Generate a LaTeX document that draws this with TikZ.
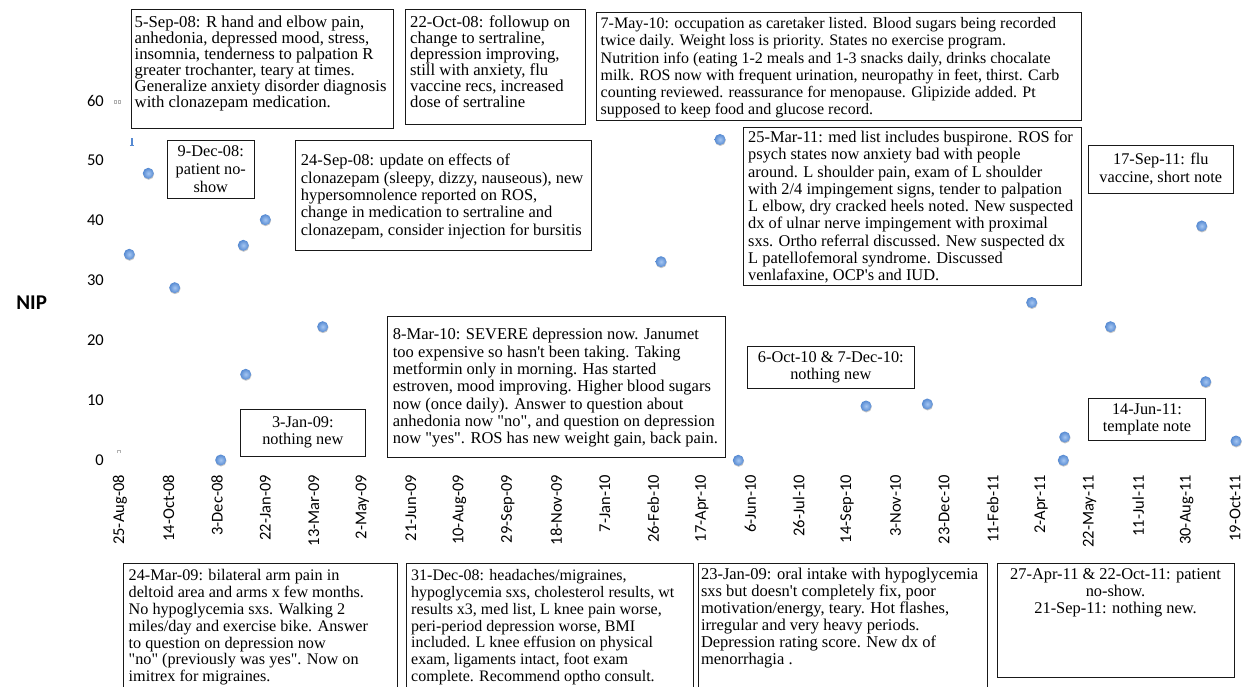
\documentclass[tikz,border=0pt]{standalone}
\usepackage{fontspec}
\setmainfont{Liberation Serif}
\newfontfamily\tnr{Liberation Serif}
\newfontfamily\calfont{Carlito}
\usetikzlibrary{shadows}
\definecolor{dotin}{RGB}{165,198,242}
\definecolor{dotout}{RGB}{86,138,210}
\begin{document}
\begin{tikzpicture}[x=1pt,y=-1pt,
  bx/.style={draw=black!90, line width=0.9pt, inner sep=0pt, outer sep=0pt, anchor=north west, fill=white},
  tl/.style={font=\tnr\fontsize{16.5}{17.3}\selectfont, align=left, inner sep=0pt, anchor=north west},
  tcc/.style={font=\tnr\fontsize{16.3}{17.3}\selectfont, align=center, inner sep=0pt},
  pt/.style={circle, inner sep=0pt, minimum size=11pt, inner color=dotin, outer color=dotout,
    drop shadow={shadow xshift=0.3pt, shadow yshift=-1pt, fill=black, opacity=0.22}},
  ticklab/.style={font=\calfont\fontsize{16.5}{18}\selectfont, rotate=90, anchor=east, inner sep=0pt},
  ylab/.style={font=\calfont\fontsize{16.5}{18}\selectfont, anchor=east, inner sep=0pt}]
\useasboundingbox (0,0) rectangle (1248,687);
\fill[white] (0,0) rectangle (1248,687);
\clip (0,0) rectangle (1248,687);

% axis labels
\node[font=\calfont\bfseries\fontsize{21}{24}\selectfont, inner sep=0pt] (nip) at (31.7,302.7) {NIP};
\foreach \v in {0,10,...,60} \node[ylab] (y\v) at (104,{460.5-6*\v}) {\v};
\foreach \i/\d in {0/25-Aug-08,1/14-Oct-08,2/3-Dec-08,3/22-Jan-09,4/13-Mar-09,5/2-May-09,6/21-Jun-09,7/10-Aug-09,8/29-Sep-09,9/18-Nov-09,10/7-Jan-10,11/26-Feb-10,12/17-Apr-10,13/6-Jun-10,14/26-Jul-10,15/14-Sep-10,16/3-Nov-10,17/23-Dec-10,18/11-Feb-11,19/2-Apr-11,20/22-May-11,21/11-Jul-11,22/30-Aug-11,23/19-Oct-11}
  \node[ticklab] (t\i) at ({120+48.48*\i},475) {\d};

% small artifacts
\draw[gray!60, line width=0.5pt] (114.5,100) rectangle (116.5,103.5) (118,100) rectangle (120,103.5);
\draw[gray!60, line width=0.5pt] (117.5,453) -- (117.5,450.5) -- (120,450.5) -- (120,453);
\draw[dotout, line width=1.3pt] (132,138.5) -- (132,145);
\draw[dotout, line width=1pt] (129.8,145.3) -- (134.2,145.3);

% data points
\foreach \x/\y [count=\i] in {129.3/254.3,148.3/173.3,174.7/287.7,220.7/460,243.3/245.3,245.7/374.3,265.3/219.7,322.7/326.7,661/261.7,720/139.5,738.3/460.3,866/406,927.3/404,1031.7/302.5,1063.3/460.2,1064.7/437,1110.5/326.7,1201.7/226,1205.7/381.7,1236/441}
  \node[pt] (p\i) at (\x,\y) {};

% boxes
\node[bx, minimum width=261.6pt, minimum height=119.3pt] (bA) at (131.7,9) {};
\node[tl, font=\tnr\fontsize{16.7}{16}\selectfont] (tA) at (134.5,15.5) {5-Sep-08: R hand and elbow pain,\\anhedonia, depressed mood, stress,\\insomnia, tenderness to palpation R\\greater trochanter, teary at times.\\Generalize anxiety disorder diagnosis\\with clonazepam medication.};

\node[bx, minimum width=180pt, minimum height=115pt] (bB) at (405,9) {};
\node[tl, font=\tnr\fontsize{16.7}{16}\selectfont] (tB) at (410,15.5) {22-Oct-08: followup on\\change to sertraline,\\depression improving,\\still with anxiety, flu\\vaccine recs, increased\\dose of sertraline};

\node[bx, minimum width=485pt, minimum height=108pt] (bC) at (596.7,12.7) {};
\node[tl, font=\tnr\fontsize{16}{17.3}\selectfont] (tC) at (600.5,17.2) {7-May-10: occupation as caretaker listed. Blood sugars being recorded\\twice daily. Weight loss is priority. States no exercise program.\\Nutrition info (eating 1-2 meals and 1-3 snacks daily, drinks chocalate\\milk. ROS now with frequent urination, neuropathy in feet, thirst. Carb\\counting reviewed. reassurance for menopause. Glipizide added. Pt\\supposed to keep food and glucose record.};

\node[bx, minimum width=86.9pt, minimum height=57.5pt] (bD) at (167.3,140.5) {};
\node[tcc, font=\tnr\fontsize{16.3}{17.8}\selectfont] (tD) at (bD.center) {9-Dec-08:\\patient no-\\show};

\node[bx, minimum width=296pt, minimum height=109.3pt] (bE) at (295.7,140.7) {};
\node[tl] (tE) at (300.7,154) {24-Sep-08: update on effects of\\clonazepam (sleepy, dizzy, nauseous), new\\hypersomnolence reported on ROS,\\change in medication to sertraline and\\clonazepam, consider injection for bursitis};

\node[bx, minimum width=338.7pt, minimum height=157.5pt] (bF) at (743,127.5) {};
\node[tl, font=\tnr\fontsize{16.4}{17.3}\selectfont] (tF) at (748,130.7) {25-Mar-11: med list includes buspirone. ROS for\\psych states now anxiety bad with people\\around. L shoulder pain, exam of L shoulder\\with 2/4 impingement signs, tender to palpation\\L elbow, dry cracked heels noted. New suspected\\dx of ulnar nerve impingement with proximal\\sxs. Ortho referral discussed. New suspected dx\\L patellofemoral syndrome. Discussed\\venlafaxine, OCP's and IUD.};

\node[bx, minimum width=145pt, minimum height=48.3pt] (bG) at (1088.3,145) {};
\node[tcc] (tG) at (bG.center) {17-Sep-11: flu\\vaccine, short note};

\node[bx, minimum width=337.7pt, minimum height=140.6pt] (bH) at (387.3,316.7) {};
\node[tl] (tH) at (392.7,328.3) {8-Mar-10: SEVERE depression now. Janumet\\too expensive so hasn't been taking. Taking\\metformin only in morning. Has started\\estroven, mood improving. Higher blood sugars\\now (once daily). Answer to question about\\anhedonia now "no", and question on depression\\now "yes". ROS has new weight gain, back pain.};

\node[bx, minimum width=125.7pt, minimum height=47pt] (bI) at (240,409) {};
\node[tcc] (tI) at (bI.center) {3-Jan-09:\\nothing new};

\node[bx, minimum width=167pt, minimum height=41.3pt] (bJ) at (747.3,346.7) {};
\node[tcc] (tJ) at (bJ.center) {6-Oct-10 \& 7-Dec-10:\\nothing new};

\node[bx, minimum width=117.4pt, minimum height=41.7pt] (bK) at (1088.3,398.3) {};
\node[tcc] (tK) at (bK.center) {14-Jun-11:\\template note};

\node[bx, minimum width=274pt, minimum height=140pt] (bL) at (123,563) {};
\node[tl, font=\tnr\fontsize{16.2}{16.9}\selectfont] (tL) at (128.5,569) {24-Mar-09: bilateral arm pain in\\deltoid area and arms x few months.\\No hypoglycemia sxs. Walking 2\\miles/day and exercise bike. Answer\\to question on depression now\\"no" (previously was yes". Now on\\imitrex for migraines.};

\node[bx, minimum width=287pt, minimum height=140pt] (bM) at (406,563) {};
\node[tl, font=\tnr\fontsize{16}{16.9}\selectfont] (tM) at (411,569) {31-Dec-08: headaches/migraines,\\hypoglycemia sxs, cholesterol results, wt\\results x3, med list, L knee pain worse,\\peri-period depression worse, BMI\\included. L knee effusion on physical\\exam, ligaments intact, foot exam\\complete. Recommend optho consult.};

\node[bx, minimum width=289.5pt, minimum height=140pt] (bN) at (698,563) {};
\node[tl, font=\tnr\fontsize{16.5}{17}\selectfont] (tN) at (700.8,568) {23-Jan-09: oral intake with hypoglycemia\\sxs but doesn't completely fix, poor\\motivation/energy, teary. Hot flashes,\\irregular and very heavy periods.\\Depression rating score. New dx of\\menorrhagia .};

\node[bx, minimum width=237pt, minimum height=114.5pt] (bO) at (997,563) {};
\node[tcc, anchor=north, font=\tnr\fontsize{16.4}{17}\selectfont] (tO) at (1115.5,568) {27-Apr-11 \& 22-Oct-11: patient\\no-show.\\21-Sep-11: nothing new.};
\end{tikzpicture}
\end{document}
